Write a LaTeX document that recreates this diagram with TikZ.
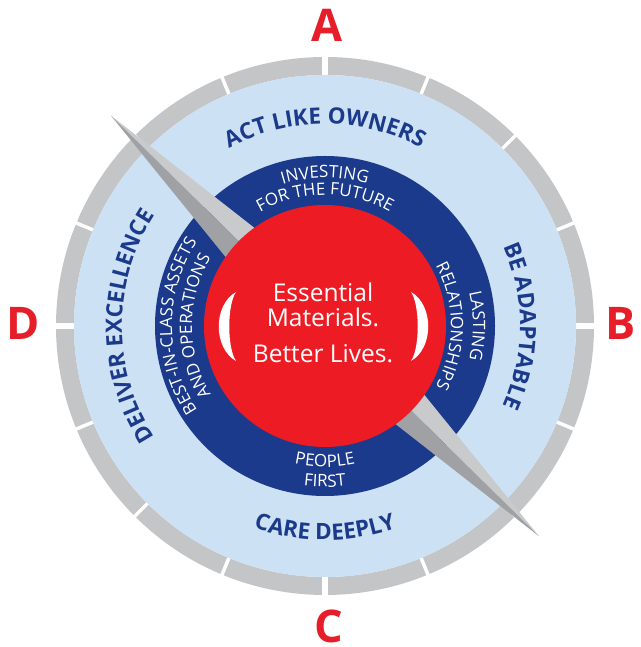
\documentclass[tikz,border=0pt]{standalone}
\usepackage{fontspec}
\setmainfont{Open Sans}
\usetikzlibrary{decorations.text}
\definecolor{navy}{HTML}{1B3A8C}
\definecolor{sky}{HTML}{CCE1F4}
\definecolor{core}{HTML}{ED1C24}
\definecolor{signal}{HTML}{E61E2A}
\definecolor{rim}{HTML}{C4C5C7}
\definecolor{needlelight}{HTML}{C9CACC}
\definecolor{needledark}{HTML}{9FA1A4}
\newcommand{\pointfont}{\fontsize{45}{45}\selectfont\bfseries}
\newcommand{\mottofont}{\fontsize{24.5}{26}\selectfont}
\newcommand{\outerfont}{\fontsize{22.5}{24}\selectfont\bfseries}
\newcommand{\innerfont}{\fontsize{17}{18}\selectfont}
\tikzstyle{point} = [font=\pointfont, text=signal, inner sep=0pt]
\tikzstyle{motto} = [font=\mottofont, text=white, inner sep=0pt, anchor=base]
\tikzstyle{tick} = [white, line width=3.5pt]
\newcommand{\cwtext}[4]{\path[decorate, decoration={text along path, text align=center, text color=#4, text={#3}}] (c) ++({#1+80}:#2) arc[start angle=#1+80, end angle=#1-80, radius=#2];}
\newcommand{\ccwtext}[4]{\path[decorate, decoration={text along path, text align=center, text color=#4, text={#3}}] (c) ++({#1-80}:#2) arc[start angle=#1-80, end angle=#1+80, radius=#2];}

\begin{document}
\begin{tikzpicture}[x=1pt, y=1pt]
	\useasboundingbox (0,0) rectangle (640,647);
	\fill[white] (0,0) rectangle (640,647);
	\coordinate (c) at (325,321);
	\fill[rim, even odd rule] (c) circle[radius=269] (c) circle[radius=251];
	\foreach \a in {0,22.5,...,337.5}
		\draw[tick] (c) ++(\a:249) -- ++(\a:22);
	\foreach \a in {0,90,180,270}
		\draw[tick, line width=6pt] (c) ++(\a:249) -- ++(\a:22);
	\fill[sky] (c) circle[radius=251];
	\fill[navy] (c) circle[radius=170];
	\path (c) ++(135.5:300) coordinate (nw) (c) ++(-44.5:300) coordinate (se)
		(c) ++(45.5:34) coordinate (ne) (c) ++(225.5:34) coordinate (sw);
	\fill[needlelight] (nw) -- (ne) -- (se) -- cycle;
	\fill[needledark] (nw) -- (sw) -- (se) -- cycle;
	\fill[core] (c) circle[radius=121];
	\fill[white] (236,355) .. controls (213,342) and (213,299) .. (236,286)
		.. controls (227,299) and (227,342) .. (236,355) -- cycle;
	\fill[white] (411,355) .. controls (434,342) and (434,299) .. (411,286)
		.. controls (420,299) and (420,342) .. (411,355) -- cycle;
	\node[motto] (ess) at (323,345) {Essential};
	\node[motto] (mat) at (323,320) {Materials.};
	\node[motto] (bet) at (323,284) {Better Lives.};
	\cwtext{90}{202}{|\outerfont|ACT LIKE OWNERS}{navy}
	\cwtext{180}{203}{|\outerfont|DELIVER EXCELLENCE}{navy}
	\cwtext{0}{195}{|\outerfont|BE ADAPTABLE}{navy}
	\ccwtext{270}{214}{|\outerfont|CARE DEEPLY}{navy}
	\cwtext{90}{148}{|\innerfont|INVESTING}{white}
	\cwtext{90}{131}{|\innerfont|FOR THE FUTURE}{white}
	\cwtext{180}{153}{|\innerfont|BEST-IN-CLASS ASSETS}{white}
	\cwtext{180}{133}{|\innerfont|AND OPERATIONS}{white}
	\cwtext{0}{148}{|\innerfont|LASTING}{white}
	\cwtext{0}{126}{|\innerfont|RELATIONSHIPS}{white}
	\ccwtext{270}{141}{|\innerfont|PEOPLE}{white}
	\ccwtext{270}{161}{|\innerfont|FIRST}{white}
	\node[point] (a) at (327.5,622) {A};
	\node[point] (b) at (620.5,324) {B};
	\node[point] (cc) at (329,21) {C};
	\node[point] (d) at (23.5,323.5) {D};
\end{tikzpicture}
\end{document}
